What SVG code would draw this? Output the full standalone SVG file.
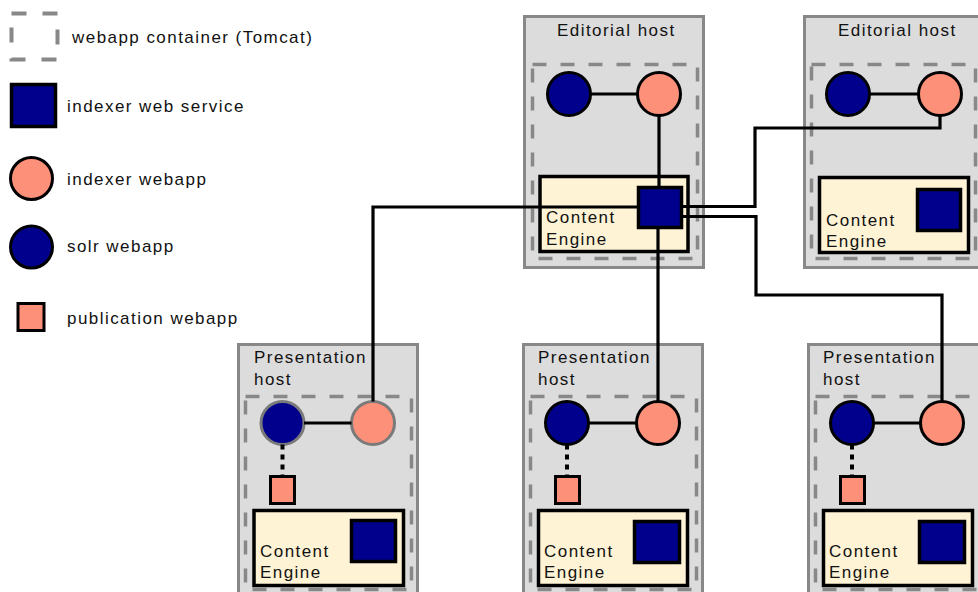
<svg xmlns="http://www.w3.org/2000/svg" width="978" height="592" viewBox="0 0 978 592">
<style>
.host{fill:#dcdcdc;stroke:#888;stroke-width:3}
.cont{fill:none;stroke:#888;stroke-width:3.5;stroke-dasharray:14 14}
.ce{fill:#fff3d6;stroke:#000;stroke-width:3.5}
.ws{fill:#00008c;stroke:#000;stroke-width:3.5}
.iw{fill:#fd9079;stroke:#000;stroke-width:3}
.sw{fill:#00008c;stroke:#000;stroke-width:3}
.pw{fill:#fd9079;stroke:#000;stroke-width:3}
.g{stroke:#7a7a7a}
.t{font-family:"Liberation Sans",Arial,sans-serif;font-size:17px;letter-spacing:1.45px;fill:#111}
.c{fill:none;stroke:#000;stroke-width:3.2}
.d{fill:none;stroke:#000;stroke-width:4;stroke-dasharray:5 5}
</style>

<g id="legend">
  <rect x="11.5" y="13.5" width="46" height="46" fill="none" stroke="#888" stroke-width="4" stroke-dasharray="15 16"/>
  <text class="t" x="72" y="43">webapp container (Tomcat)</text>
  <rect class="ws" x="11.5" y="84.5" width="44" height="42"/>
  <text class="t" x="67" y="112">indexer web service</text>
  <circle class="iw" cx="31.5" cy="178.5" r="21"/>
  <text class="t" x="67" y="185">indexer webapp</text>
  <circle class="sw" cx="31.5" cy="247" r="21"/>
  <text class="t" x="67" y="252">solr webapp</text>
  <rect class="pw" x="18" y="303.5" width="26" height="27"/>
  <text class="t" x="67" y="324">publication webapp</text>
</g>

<g id="editorial-host-1">
  <rect class="host" x="524.5" y="16.5" width="179" height="251"/>
  <text class="t" x="557" y="36">Editorial host</text>
  <rect class="cont" x="532.5" y="64.5" width="165" height="194"/>
  <rect class="ce" x="540" y="176.5" width="148" height="75"/>
  <text class="t" x="546" y="223">Content</text>
  <text class="t" x="546" y="245">Engine</text>
</g>
<g id="ed1-solr"><circle class="sw" cx="569" cy="94" r="21.5"/></g>
<g id="ed1-indexer"><circle class="iw" cx="659" cy="94" r="21.5"/></g>
<g id="ed1-ws"><rect class="ws" x="638.5" y="187.5" width="43" height="40"/></g>

<g id="editorial-host-2">
  <rect class="host" x="804.5" y="16.5" width="179" height="251"/>
  <text class="t" x="838" y="36">Editorial host</text>
  <rect class="cont" x="811.5" y="64.5" width="164" height="194"/>
  <rect class="ce" x="819.5" y="177.5" width="149" height="75"/>
  <text class="t" x="826" y="226">Content</text>
  <text class="t" x="826" y="247">Engine</text>
</g>
<g id="ed2-solr"><circle class="sw" cx="848" cy="94" r="21.5"/></g>
<g id="ed2-indexer"><circle class="iw" cx="940" cy="94" r="21.5"/></g>
<g id="ed2-ws"><rect class="ws" x="917.5" y="189.5" width="43" height="41"/></g>

<g id="presentation-host-1">
  <rect class="host" x="238.5" y="344.5" width="179" height="280"/>
  <text class="t" x="254" y="363">Presentation</text>
  <text class="t" x="254" y="385">host</text>
  <rect class="cont" x="245.5" y="396.5" width="166" height="193"/>
  <rect class="ce" x="254" y="510.5" width="149.5" height="75"/>
  <text class="t" x="260" y="557">Content</text>
  <text class="t" x="260" y="578">Engine</text>
</g>
<g id="p1-solr"><circle class="sw g" cx="282.5" cy="423" r="21.5"/></g>
<g id="p1-indexer"><circle class="iw g" cx="373" cy="423" r="21.5"/></g>
<g id="p1-pub"><rect class="pw" x="270.5" y="476.5" width="24" height="27"/></g>
<g id="p1-ws"><rect class="ws" x="351.5" y="520.5" width="44" height="41"/></g>

<g id="presentation-host-2">
  <rect class="host" x="523.5" y="344.5" width="179" height="280"/>
  <text class="t" x="538" y="363">Presentation</text>
  <text class="t" x="538" y="385">host</text>
  <rect class="cont" x="530.5" y="396.5" width="166" height="193"/>
  <rect class="ce" x="538.5" y="510.5" width="149" height="75"/>
  <text class="t" x="544" y="557">Content</text>
  <text class="t" x="544" y="578">Engine</text>
</g>
<g id="p2-solr"><circle class="sw" cx="567" cy="423" r="21.5"/></g>
<g id="p2-indexer"><circle class="iw" cx="658" cy="423" r="21.5"/></g>
<g id="p2-pub"><rect class="pw" x="555.5" y="476.5" width="24" height="27"/></g>
<g id="p2-ws"><rect class="ws" x="634.5" y="521.5" width="45" height="41"/></g>

<g id="presentation-host-3">
  <rect class="host" x="808.5" y="344.5" width="179" height="280"/>
  <text class="t" x="823" y="363">Presentation</text>
  <text class="t" x="823" y="385">host</text>
  <rect class="cont" x="815.5" y="396.5" width="166" height="193"/>
  <rect class="ce" x="823.5" y="510.5" width="149" height="75"/>
  <text class="t" x="829" y="557">Content</text>
  <text class="t" x="829" y="578">Engine</text>
</g>
<g id="p3-solr"><circle class="sw" cx="852" cy="423" r="21.5"/></g>
<g id="p3-indexer"><circle class="iw" cx="942" cy="423" r="21.5"/></g>
<g id="p3-pub"><rect class="pw" x="840.5" y="476.5" width="24" height="27"/></g>
<g id="p3-ws"><rect class="ws" x="919.5" y="521.5" width="45" height="41"/></g>

<g id="connectors">
  <path class="c" d="M590.5 94H637.5"/>
  <path class="c" d="M659 115.5V187.5"/>
  <path class="c" d="M638.5 207H373V401.5"/>
  <path class="c" d="M658 227.5V401.5"/>
  <path class="c" d="M681.5 206.5H755V128H940V115.5"/>
  <path class="c" d="M681.5 216.5H756V295H942V401.5"/>
  <path class="c" d="M869.5 94H918.5"/>
  <path class="c" d="M304 423H351.5"/>
  <path class="c" d="M588.5 423H636.5"/>
  <path class="c" d="M873.5 423H920.5"/>
  <path class="d" d="M282.5 444.5V476.5"/>
  <path class="d" d="M567 444.5V476.5"/>
  <path class="d" d="M852 444.5V476.5"/>
</g>
</svg>
